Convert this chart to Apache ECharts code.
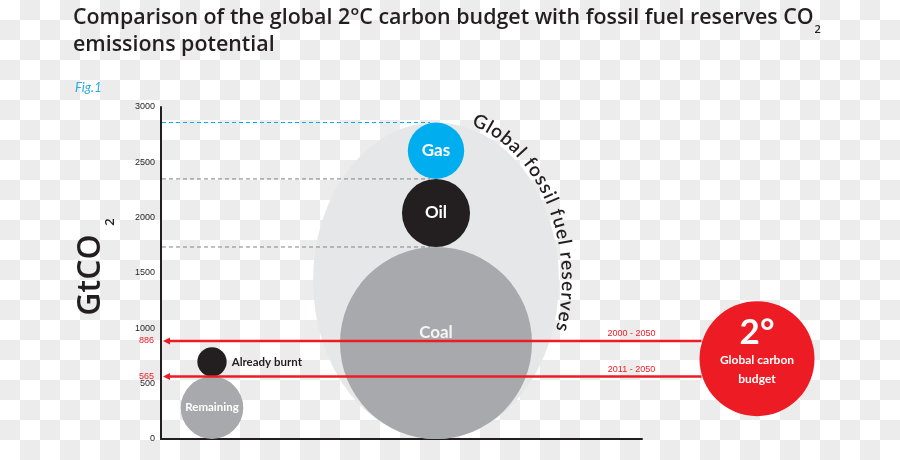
<!DOCTYPE html>
<html><head><meta charset="utf-8">
<script src="https://cdn.jsdelivr.net/npm/echarts@6/dist/echarts.min.js"></script>
<style>
html,body{margin:0;padding:0;}
body{width:900px;height:460px;background-color:#fff;
background-image:conic-gradient(#ececec 25%, #ffffff 0 50%, #ececec 0 75%, #ffffff 0);
background-size:40px 40px;}
#chart{width:900px;height:460px;}
</style></head>
<body><div id="chart"></div>
<script>
// ---------------- data ----------------
const yTickValues = [0, 500, 1000, 1500, 2000, 2500, 3000];
const fuelNames = ['Coal', 'Oil', 'Gas'];
const fuelLow = [0, 1735, 2350];
const fuelHigh = [1735, 2350, 2860];
const reserveName = 'Global fossil fuel reserves';
const budgetNames = ['Remaining', 'Already burnt'];
const budgetLow = [0, 565];
const budgetHigh = [565, 830];
const budgetLineValues = [886, 565];
const budgetLinePeriods = ['2000 - 2050', '2011 - 2050'];
const globalBudgetTitle = '2°';
const globalBudgetText = ['Global carbon', 'budget'];
const titleLine1 = 'Comparison of the global 2°C carbon budget with fossil fuel reserves CO';
const titleSub = '2';
const titleLine2 = 'emissions potential';
const figLabel = 'Fig.1';
const yAxisName = 'GtCO';
const yAxisSub = '2';

// ---------------- layout / style ----------------
const FONT = 'Lato';
const TITLE_FONT = 'Open Sans';
const DARK = '#231f20';
const RED = '#ed1c24';
const BLUE = '#00aeef';
const fuelColors = ['#a7a9ac', DARK, BLUE];
const fuelLabelColors = ['#f4f4f5', '#ffffff', '#ffffff'];
const fuelLabelDy = [-10, 0, 0];
const dashColors = ['#808285', '#808285', BLUE];
const X_MAX = 481, COL_BUDGET = 51, COL_FUEL = 275, COL_GLOBAL = 596;
const GLOBAL_R = 57.5;
const ELLIPSE_RATIO = 0.777;
const TITLE_LEFT = 73, TITLE_WIDTH = 741;

const measureCtx = document.createElement('canvas').getContext('2d');
function textWidth(t, font) { measureCtx.font = font; return measureCtx.measureText(t).width; }

function arcText(cx, cy, a, b, t1, t2, text, fontSize) {
  const font = '600 ' + fontSize + 'px ' + FONT;
  const chars = Array.from(text);
  const widths = chars.map(ch => textWidth(ch, font));
  const N = 3000, table = [];
  let acc = 0, prev = null;
  for (let k = 0; k <= N; k++) {
    const t = t1 + (t2 - t1) * k / N;
    const p = [cx + a * Math.sin(t), cy - b * Math.cos(t)];
    if (prev) acc += Math.hypot(p[0] - prev[0], p[1] - prev[1]);
    table.push({ p, s: acc, t });
    prev = p;
  }
  const total = widths.reduce((s, w) => s + w, 0);
  const inner = total - widths[0] / 2 - widths[widths.length - 1] / 2;
  const extra = (acc - inner) / (chars.length - 1);
  const out = [];
  let s = 0, j = 0;
  chars.forEach((ch, i) => {
    if (i > 0) s += widths[i - 1] / 2 + widths[i] / 2 + extra;
    while (j < table.length - 1 && table[j].s < s) j++;
    const e = table[j];
    const rot = -Math.atan2(b * Math.sin(e.t), a * Math.cos(e.t));
    out.push({ type: 'text', x: e.p[0], y: e.p[1], rotation: rot,
      style: { text: ch, fontSize, fontWeight: 600, fontFamily: FONT, fill: DARK, align: 'center', verticalAlign: 'middle' } });
  });
  return out;
}

// fit title size to the reference line width
const titleBase = textWidth(titleLine1, '600 20px ' + TITLE_FONT);
const TITLE_SIZE = Math.round(20 * TITLE_WIDTH / titleBase * 10) / 10;
const titleFont = '600 ' + TITLE_SIZE + 'px ' + TITLE_FONT;

const chart = echarts.init(document.getElementById('chart'), null, { renderer: 'canvas' });
const reserveTop = fuelHigh[fuelHigh.length - 1];

const option = {
  backgroundColor: 'transparent',
  animation: false,
  grid: { left: 161, top: 107, right: 900 - 161 - X_MAX, bottom: 21, containLabel: false },
  xAxis: { type: 'value', min: 0, max: X_MAX,
    axisLine: { show: true, lineStyle: { color: DARK, width: 2 } },
    axisTick: { show: false }, axisLabel: { show: false }, splitLine: { show: false } },
  yAxis: { type: 'value', min: yTickValues[0], max: yTickValues[yTickValues.length - 1], interval: 500,
    axisLine: { show: true, lineStyle: { color: DARK, width: 2 } },
    axisTick: { show: false }, splitLine: { show: false },
    axisLabel: { fontSize: 9, color: DARK, margin: 6, fontFamily: 'Liberation Sans',
      formatter: v => yTickValues.includes(v) ? String(v) : '' } },
  graphic: [
    { type: 'text', x: TITLE_LEFT, y: 18, style: { text: titleLine1, fontSize: TITLE_SIZE, fontWeight: 600, fontFamily: TITLE_FONT, fill: DARK, verticalAlign: 'middle' } },
    { type: 'text', x: TITLE_LEFT + textWidth(titleLine1, titleFont) + 1, y: 30, style: { text: titleSub, fontSize: 11, fontWeight: 600, fontFamily: TITLE_FONT, fill: DARK, verticalAlign: 'middle' } },
    { type: 'text', x: TITLE_LEFT, y: 45, style: { text: titleLine2, fontSize: TITLE_SIZE, fontWeight: 600, fontFamily: TITLE_FONT, fill: DARK, verticalAlign: 'middle' } },
    { type: 'text', x: 75, y: 88, style: { text: figLabel, fontSize: 13, fontStyle: 'italic', fontFamily: FONT, fill: '#29abe2', verticalAlign: 'middle' } },
    { type: 'text', x: 91, y: 275, rotation: Math.PI / 2, style: { text: yAxisName, fontSize: 32, fontWeight: 600, fontFamily: TITLE_FONT, fill: DARK, align: 'center', verticalAlign: 'middle' } },
    { type: 'text', x: 110, y: 222, rotation: Math.PI / 2, style: { text: yAxisSub, fontSize: 13, fontWeight: 600, fontFamily: TITLE_FONT, fill: DARK, align: 'center', verticalAlign: 'middle' } }
  ],
  series: [
    { // reserves ellipse + arc title
      type: 'custom', z: 1, silent: true,
      data: [[COL_FUEL, fuelLow[0], reserveTop]],
      encode: { x: 0, y: [1, 2] },
      renderItem: (params, api) => {
        const lo = api.value(1), hi = api.value(2);
        const c = api.coord([api.value(0), (lo + hi) / 2]);
        const ry = api.size([0, hi - lo])[1] / 2;
        const rx = ry * ELLIPSE_RATIO;
        const children = [{ type: 'circle', x: c[0], y: c[1], scaleX: rx / ry, shape: { cx: 0, cy: 0, r: ry }, style: { fill: '#e6e7e8' } }];
        return { type: 'group', children: children.concat(arcText(c[0], c[1], rx + 9, ry + 10, 19.5 * Math.PI / 180, 106 * Math.PI / 180, reserveName, 19)) };
      }
    },
    { // fuel circles with dashed guides
      type: 'custom', z: 2, silent: true,
      data: fuelNames.map((n, i) => [COL_FUEL, fuelLow[i], fuelHigh[i], i]),
      encode: { x: 0, y: [1, 2] },
      renderItem: (params, api) => {
        const x = api.value(0), lo = api.value(1), hi = api.value(2), i = api.value(3);
        const c = api.coord([x, (lo + hi) / 2]);
        const r = api.size([0, hi - lo])[1] / 2;
        const top = api.coord([0, hi]);
        return { type: 'group', children: [
          { type: 'line', shape: { x1: top[0] + 1, y1: top[1], x2: c[0] - 6, y2: top[1] }, style: { stroke: dashColors[i], lineWidth: 1, lineDash: [4, 3] } },
          { type: 'circle', shape: { cx: c[0], cy: c[1], r }, style: { fill: fuelColors[i] } },
          { type: 'text', x: c[0], y: c[1] + fuelLabelDy[i], style: { text: fuelNames[i], fontSize: 17, fontWeight: 'bold', fontFamily: FONT, fill: fuelLabelColors[i], align: 'center', verticalAlign: 'middle' } }
        ] };
      }
    },
    { // budget circles
      type: 'custom', z: 3, silent: true,
      data: budgetNames.map((n, i) => [COL_BUDGET, budgetLow[i], budgetHigh[i], i]),
      encode: { x: 0, y: [1, 2] },
      renderItem: (params, api) => {
        const x = api.value(0), lo = api.value(1), hi = api.value(2), i = api.value(3);
        const c = api.coord([x, (lo + hi) / 2]);
        const r = api.size([0, hi - lo])[1] / 2;
        const inside = i === 0;
        return { type: 'group', children: [
          { type: 'circle', shape: { cx: c[0], cy: c[1], r }, style: { fill: inside ? '#a7a9ac' : DARK } },
          { type: 'text', x: inside ? c[0] : c[0] + r + 5, y: c[1], style: { text: budgetNames[i], fontSize: 11.5, fontWeight: 'bold', fontFamily: FONT, fill: inside ? '#ffffff' : DARK, align: inside ? 'center' : 'left', verticalAlign: 'middle' } }
        ] };
      }
    },
    { // budget lines with arrows
      type: 'custom', z: 4, silent: true,
      data: budgetLineValues.map((v, i) => [0, v, i]),
      encode: { x: 0, y: 1 },
      renderItem: (params, api) => {
        const v = api.value(1), i = api.value(2);
        const p = api.coord([0, v]);
        const gx = api.coord([COL_GLOBAL, v])[0] - GLOBAL_R + 2;
        const x0 = p[0] + 2;
        return { type: 'group', children: [
          { type: 'line', shape: { x1: x0 + 4, y1: p[1], x2: gx, y2: p[1] }, style: { stroke: RED, lineWidth: 2.6 } },
          { type: 'polygon', shape: { points: [[x0, p[1]], [x0 + 7, p[1] - 3.5], [x0 + 7, p[1] + 3.5]] }, style: { fill: RED } },
          { type: 'text', x: gx - 70, y: p[1] - 7, style: { text: budgetLinePeriods[i], fontSize: 9, fontFamily: 'Liberation Sans', fill: RED, align: 'center', verticalAlign: 'middle' } },
          { type: 'text', x: p[0] - 7, y: p[1], style: { text: String(v), fontSize: 9, fontFamily: 'Liberation Sans', fill: RED, align: 'right', verticalAlign: 'middle' } }
        ] };
      }
    },
    { // global carbon budget circle
      type: 'custom', z: 5, silent: true,
      data: [[COL_GLOBAL, budgetLineValues[1], budgetLineValues[0]]],
      encode: { x: 0, y: [1, 2] },
      renderItem: (params, api) => {
        const c = api.coord([api.value(0), (api.value(1) + api.value(2)) / 2]);
        return { type: 'group', children: [
          { type: 'circle', shape: { cx: c[0], cy: c[1], r: GLOBAL_R }, style: { fill: RED } },
          { type: 'text', x: c[0], y: c[1] - 26, style: { text: globalBudgetTitle, fontSize: 35, fontWeight: 'bold', fontFamily: FONT, fill: '#fff', align: 'center', verticalAlign: 'middle' } },
          { type: 'text', x: c[0], y: c[1] + 1, style: { text: globalBudgetText[0], fontSize: 12, fontWeight: 'bold', fontFamily: FONT, fill: '#fff', align: 'center', verticalAlign: 'middle' } },
          { type: 'text', x: c[0], y: c[1] + 20, style: { text: globalBudgetText[1], fontSize: 12, fontWeight: 'bold', fontFamily: FONT, fill: '#fff', align: 'center', verticalAlign: 'middle' } }
        ] };
      }
    }
  ]
};
chart.setOption(option);
</script>
</body></html>
